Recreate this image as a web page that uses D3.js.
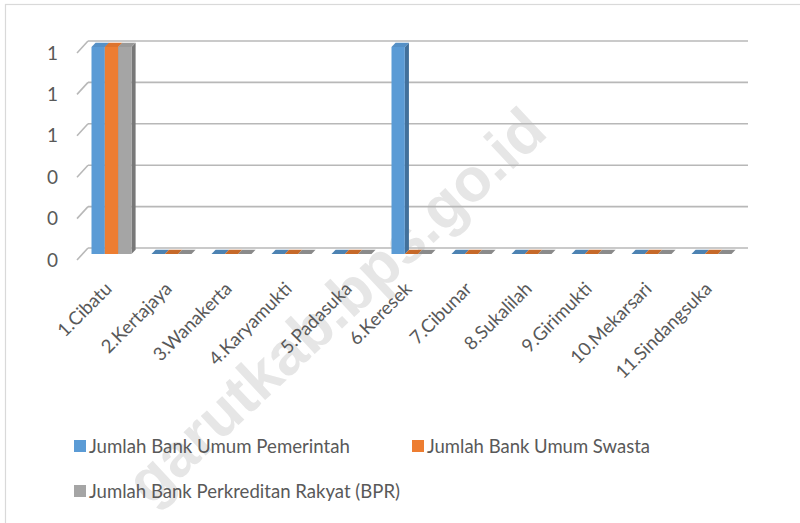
<!DOCTYPE html>
<html>
<head>
<meta charset="utf-8">
<script src="https://cdn.jsdelivr.net/npm/d3@7"></script>
<style>
  body { margin: 0; background: #fff; }
  text { font-family: Lato, "Liberation Sans", sans-serif; fill: #595959; }
</style>
</head>
<body>
<svg id="chart" width="800" height="523"></svg>
<script>
// data
var categories = ["1.Cibatu", "2.Kertajaya", "3.Wanakerta", "4.Karyamukti", "5.Padasuka",
  "6.Keresek", "7.Cibunar", "8.Sukalilah", "9.Girimukti", "10.Mekarsari", "11.Sindangsuka"];
var seriesNames = ["Jumlah Bank Umum Pemerintah", "Jumlah Bank Umum Swasta", "Jumlah Bank Perkreditan Rakyat (BPR)"];
var pemerintah = [1, 0, 0, 0, 0, 1, 0, 0, 0, 0, 0];
var swasta     = [1, 0, 0, 0, 0, 0, 0, 0, 0, 0, 0];
var bpr        = [1, 0, 0, 0, 0, 0, 0, 0, 0, 0, 0];
var yTicks = [0, 0.2, 0.4, 0.6, 0.8, 1];

var seriesValues = [pemerintah, swasta, bpr];
var colors = ["#5b9bd5", "#ed7d31", "#a5a5a5"];

var svg = d3.select("#chart");

// outer frame
svg.append("rect")
  .attr("x", 5.5).attr("y", 4.5)
  .attr("width", 1000).attr("height", 1000)
  .attr("fill", "none")
  .attr("stroke", "#d9d9d9")
  .attr("stroke-width", 1.2);

// watermark (kept inside the picture)
svg.append("text")
  .attr("transform", "translate(350,321) rotate(-43)")
  .attr("text-anchor", "middle")
  .style("font-family", "'Liberation Sans', Arial, sans-serif")
  .style("font-weight", "bold")
  .style("font-size", "61px")
  .style("fill", "#e6e6e6")
  .text("garutkab.bps.go.id");

// back wall scales (3d depth is faked by offsets)
var x0 = d3.scaleBand()
  .domain(categories)
  .range([88, 748])
  .paddingInner(1 / 3)
  .paddingOuter(1 / 6);

var x1 = d3.scaleBand()
  .domain(d3.range(seriesValues.length))
  .range([0, x0.bandwidth()]);

var y = d3.scaleLinear()
  .domain([0, 1])
  .range([248, 41]);

var depth = { dx: -11, dy: 12 };        // front edge of floor
var barFront = { dx: -6.5, dy: 6 };     // bar front face
var barBack = { dx: -2.4, dy: 1.8 };    // bar back face

// gridlines + left wall ticks
var grid = svg.append("g");
yTicks.forEach(function(t) {
  grid.append("line")
    .attr("x1", 88).attr("x2", 748)
    .attr("y1", y(t)).attr("y2", y(t))
    .attr("stroke", "#b8b8b8")
    .attr("stroke-width", 1.6);
  grid.append("line")
    .attr("x1", 88 + depth.dx).attr("y1", y(t) + depth.dy)
    .attr("x2", 88).attr("y2", y(t))
    .attr("stroke", "#b8b8b8")
    .attr("stroke-width", 1.6);
});

// y labels
var fmt = d3.format(".0f");
svg.append("g").selectAll("text")
  .data(yTicks)
  .enter().append("text")
    .attr("x", 58)
    .attr("y", function(d) { return y(d) + depth.dy; })
    .attr("dy", "0.35em")
    .attr("text-anchor", "end")
    .style("font-size", "19px")
    .text(function(d) { return fmt(d); });

// bars
var bars = svg.append("g");
categories.forEach(function(cat, i) {
  seriesValues.forEach(function(vals, s) {
    var v = vals[i];
    var xl = x0(cat) + x1(s);
    var w = x1.bandwidth();
    var yt = y(v), yb = y(0);
    var c = d3.color(colors[s]);

    // side face
    bars.append("path")
      .attr("d", "M" + (xl + w + barFront.dx) + "," + (yt + barFront.dy) +
        "L" + (xl + w + barBack.dx) + "," + (yt + barBack.dy) +
        "L" + (xl + w + barBack.dx) + "," + (yb + barBack.dy) +
        "L" + (xl + w + barFront.dx) + "," + (yb + barFront.dy) + "Z")
      .attr("fill", c.darker(0.9));
    // front face
    bars.append("rect")
      .attr("x", xl + barFront.dx)
      .attr("y", yt + barFront.dy)
      .attr("width", w)
      .attr("height", yb - yt)
      .attr("fill", c);
    // top face
    bars.append("path")
      .attr("d", "M" + (xl + barFront.dx) + "," + (yt + barFront.dy) +
        "L" + (xl + w + barFront.dx) + "," + (yt + barFront.dy) +
        "L" + (xl + w + barBack.dx) + "," + (yt + barBack.dy) +
        "L" + (xl + barBack.dx) + "," + (yt + barBack.dy) + "Z")
      .attr("fill", v > 0 ? c.darker(0.2) : c.darker(0.5));
  });
});

// x labels
svg.append("g").selectAll("text")
  .data(categories)
  .enter().append("text")
    .attr("transform", function(d) {
      return "translate(" + (x0(d) + x0.bandwidth() / 2 - 5) + ",290) rotate(-45)";
    })
    .attr("text-anchor", "end")
    .style("font-size", "18.5px")
    .text(function(d) { return d; });

// legend
var legendPos = [[74, 440], [412, 440], [74, 485]];
var legendWidth = [261, 223, 311];
var legend = svg.append("g").selectAll("g")
  .data(seriesNames)
  .enter().append("g")
    .attr("transform", function(d, i) { return "translate(" + legendPos[i][0] + "," + legendPos[i][1] + ")"; });
legend.append("rect")
  .attr("width", 12).attr("height", 12)
  .attr("fill", function(d, i) { return colors[i]; });
legend.append("text")
  .attr("x", 15)
  .attr("y", 12.5)
  .attr("textLength", function(d, i) { return legendWidth[i]; })
  .attr("lengthAdjust", "spacingAndGlyphs")
  .style("font-size", "19.5px")
  .text(function(d) { return d; });
</script>
</body>
</html>
